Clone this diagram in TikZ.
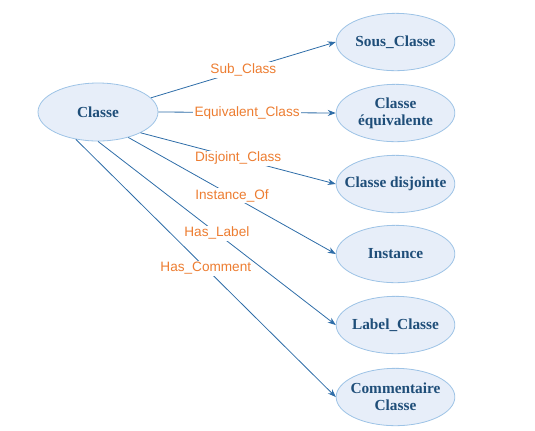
\documentclass[tikz,border=0pt]{standalone}
\usepackage{fontspec}
\setmainfont{Liberation Serif}
\newfontfamily\lblfont{Liberation Sans}
\usetikzlibrary{arrows.meta, shapes.geometric}

\definecolor{lineblue}{HTML}{2E6DA8}
\definecolor{textblue}{HTML}{1F4E79}
\definecolor{fillblue}{HTML}{E7EEF9}
\definecolor{edgeblue}{HTML}{9DC3E6}
\definecolor{lblorange}{HTML}{ED7D31}

\begin{document}
\begin{tikzpicture}[x=0.75pt, y=-0.75pt,
    concept/.style={ellipse, draw=edgeblue, fill=fillblue, line width=0.6pt,
        minimum width=89pt, minimum height=43pt, inner xsep=-9pt, inner ysep=-4pt,
        align=center, text=textblue, font=\fontsize{11.5}{13}\selectfont\bfseries},
    rel/.style={draw=lineblue, line width=0.6pt, -{Stealth[length=6pt, width=4.5pt]}},
    lbl/.style={fill=white, inner sep=1pt, text=lblorange,
        font=\lblfont\fontsize{10.2}{11}\selectfont}]
                \useasboundingbox (0,0) rectangle (535,430);

                % centre
                \node[concept, minimum width=90pt, minimum height=43.5pt] (classe) at (98,112) {Classe};

                % targets
                \node[concept] (sous) at (395.5,42) {Sous\_Classe};
                \node[concept] (equiv) at (395.5,113) {Classe\\équivalente};
                \node[concept] (disj) at (395.5,184) {Classe disjointe};
                \node[concept] (inst) at (395.5,254) {Instance};
                \node[concept] (label) at (395.5,325) {Label\_Classe};
                \node[concept] (comm) at (395.5,397) {Commentaire\\Classe};

                % relations
                \draw[rel] (classe.15) -- node[lbl] {Sub\_Class} (sous.west);
                \draw[rel] (classe.east) -- node[lbl] {Equivalent\_Class} (equiv.west);
                \draw[rel] (classe.-26) -- node[lbl] {Disjoint\_Class} (disj.west);
                \draw[rel] (classe.-40) -- node[lbl] {Instance\_Of} (inst.west);
                \draw[rel] (classe.-90) -- node[lbl] {Has\_Label} (label.west);
                \draw[rel] (classe.-129) -- node[lbl] {Has\_Comment} (comm.west);
            \end{tikzpicture}
\end{document}
